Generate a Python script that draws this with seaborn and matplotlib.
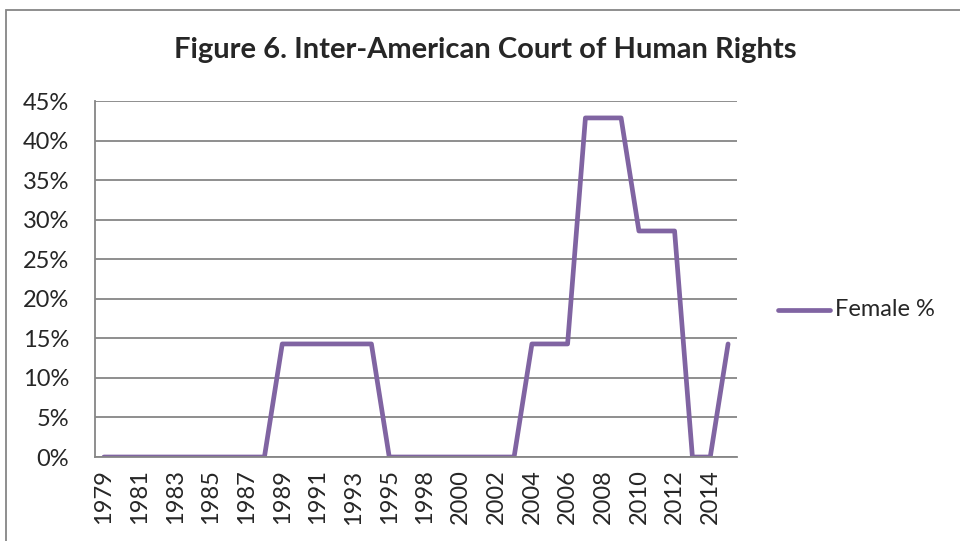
import matplotlib
matplotlib.use("Agg")
import matplotlib.pyplot as plt
import seaborn as sns
import pandas as pd
import numpy as np
from matplotlib.patches import Rectangle
from matplotlib.lines import Line2D

years = ["1979","1980","1981","1982","1983","1984","1985","1986","1987","1988",
         "1989","1990","1991","1992","1993","1994","1995","1997","1998","1999",
         "2000","2001","2002","2003","2004","2005","2006","2007","2008","2009",
         "2010","2011","2012","2013","2014","2015"]
female_pct = [0,0,0,0,0,0,0,0,0,0,
              14.29,14.29,14.29,14.29,14.29,14.29,0,0,0,0,
              0,0,0,0,14.29,14.29,14.29,42.86,42.86,42.86,
              28.57,28.57,28.57,0,0,14.29]
series_name = "Female %"
title = "Figure 6. Inter-American Court of Human Rights"

df = pd.DataFrame({"idx": np.arange(len(years)), "year": years, "value": female_pct})

sns.set_style("white")
plt.rcParams['font.family'] = ['Lato', 'DejaVu Sans']

W, H = 960, 541
fig = plt.figure(figsize=(W/100, H/100), dpi=100)
ax = fig.add_axes([95/W, 1-457/H, (737-95)/W, (457-101)/H])

grid_c = "#868686"
line_c = "#8064A2"
fs = 17

sns.lineplot(data=df, x="idx", y="value", ax=ax, color=line_c, lw=3.4,
             solid_capstyle="round", solid_joinstyle="round", legend=False)

ax.set_xlim(-0.5, len(years)-0.5)
ax.set_ylim(0, 45)
ax.set_yticks(np.arange(0, 46, 5))
ax.set_yticklabels([f"{v}%" for v in range(0, 46, 5)], fontsize=fs)
ax.yaxis.grid(True, color=grid_c, lw=1.3)
ax.set_axisbelow(True)

ax.set_xticks(np.arange(0, len(years), 2))
ax.set_xticklabels(years[::2], rotation=90, fontsize=fs)
ax.set_xticks(np.arange(-0.5, len(years), 1), minor=True)
ax.tick_params(axis="x", which="major", length=0, pad=9)
ax.tick_params(axis="x", which="minor", length=6, width=1.2, color=grid_c, direction="out")
ax.tick_params(axis="y", which="major", length=6.5, width=1.2, color=grid_c, direction="out", pad=12)
ax.set_xlabel("")
ax.set_ylabel("")

for s in ["top", "right"]:
    ax.spines[s].set_visible(False)
for s in ["left", "bottom"]:
    ax.spines[s].set_color(grid_c)
    ax.spines[s].set_linewidth(1.3)

fig.text(485/W, 1-50/H, title, ha="center", va="center", fontsize=21, fontweight="bold")

# legend
fig.add_artist(Line2D([778/W, 830/W], [1-310/H, 1-310/H], color=line_c, lw=3.4,
                      solid_capstyle="round"))
fig.text(835/W, 1-310/H, series_name, ha="left", va="center", fontsize=fs)

# chart border
fig.add_artist(Rectangle((6/W, -0.1), 1.2, 1-10/H+0.1, transform=fig.transFigure,
                         fill=False, edgecolor=grid_c, lw=1.3))

fig.savefig("out.png", dpi=100)
